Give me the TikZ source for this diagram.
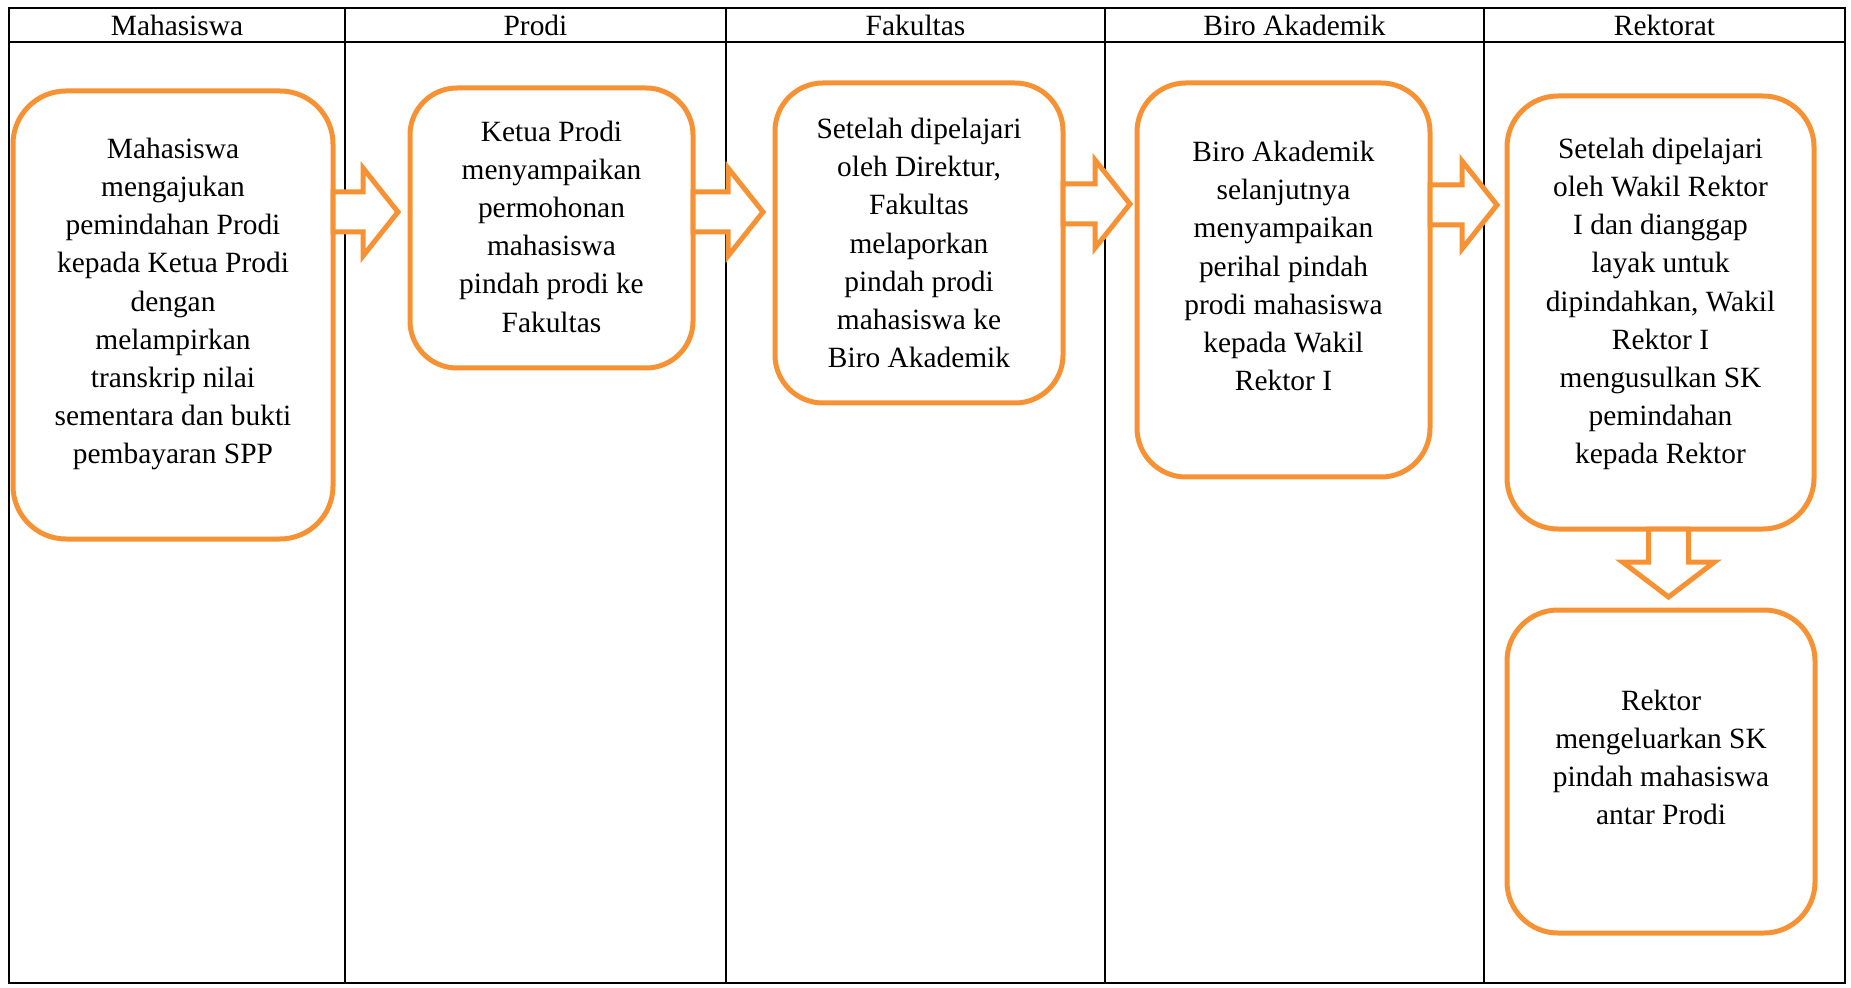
\documentclass[tikz,border=0pt]{standalone}
\usepackage{fontspec}
\setmainfont{Liberation Serif}
\usetikzlibrary{calc}
\definecolor{boxorange}{RGB}{246,146,52}
\begin{document}
\begin{tikzpicture}[x=0.5pt,y=-0.5pt,
  frame/.style={draw=black,line width=0.9pt},
  box/.style={draw=boxorange,line width=2.5pt,fill=white,outer sep=0pt,inner sep=0pt,rectangle},
  txt/.style={font=\fontsize{14.7}{19.1}\selectfont,align=center,inner sep=0pt},
  head/.style={font=\fontsize{14.7}{19.1}\selectfont,inner sep=0pt,anchor=base},
  barrow/.style={draw=boxorange,line width=2.5pt,fill=white,line join=miter}
]
\useasboundingbox (0,0) rectangle (1851,988);
\fill[white] (0,0) rectangle (1851,988);

% swimlane frame
\draw[frame] (9,8) rectangle (1845,983);
\draw[frame] (9,42) -- (1845,42);
\foreach \xx in {345,726,1105,1484} \draw[frame] (\xx,8) -- (\xx,983);

% lane headers
\node[head] (h1) at (177,36) {Mahasiswa};
\node[head] (h2) at (535.5,36) {Prodi};
\node[head] (h3) at (915.5,36) {Fakultas};
\node[head] (h4) at (1294.5,36) {Biro Akademik};
\node[head] (h5) at (1664.5,36) {Rektorat};

% process boxes
\node[box,minimum width=160pt,minimum height=224pt,rounded corners=26.5pt] (b1) at (173,315) {};
\node[box,minimum width=141.5pt,minimum height=140pt,rounded corners=23.5pt] (b2) at (551.5,228) {};
\node[box,minimum width=144pt,minimum height=160pt,rounded corners=24pt] (b3) at (919,243) {};
\node[box,minimum width=146.5pt,minimum height=197pt,rounded corners=24.5pt] (b4) at (1283.5,280) {};
\node[box,minimum width=153.5pt,minimum height=216.5pt,rounded corners=25.5pt] (b5) at (1660.5,312.5) {};
\node[box,minimum width=154pt,minimum height=161.5pt,rounded corners=25.5pt] (b6) at (1661,771.5) {};

% box texts
\node[txt] (t1) at (173,304) {Mahasiswa\\mengajukan\\pemindahan Prodi\\kepada Ketua Prodi\\dengan\\melampirkan\\transkrip nilai\\sementara dan bukti\\pembayaran SPP};
\node[txt] (t2) at (551.5,226.5) {Ketua Prodi\\menyampaikan\\permohonan\\mahasiswa\\pindah prodi ke\\Fakultas};
\node[txt] (t3) at (919,243) {Setelah dipelajari\\oleh Direktur,\\Fakultas\\melaporkan\\pindah prodi\\mahasiswa ke\\Biro Akademik};
\node[txt] (t4) at (1283.5,266) {Biro Akademik\\selanjutnya\\menyampaikan\\perihal pindah\\prodi mahasiswa\\kepada Wakil\\Rektor I};
\node[txt] (t5) at (1660.5,304) {Setelah dipelajari\\oleh Wakil Rektor\\I dan dianggap\\layak untuk\\dipindahkan, Wakil\\Rektor I\\mengusulkan SK\\pemindahan\\kepada Rektor};
\node[txt] (t6) at (1661,757.5) {Rektor\\mengeluarkan SK\\pindah mahasiswa\\antar Prodi};

% arrow end points
\coordinate (a1s) at (b1.east |- 0,212);
\coordinate (a1e) at ($(b2.west |- 0,212)+(-12,0)$);
\coordinate (a2s) at (b2.east |- 0,212);
\coordinate (a2e) at ($(b3.west |- 0,212)+(-12,0)$);
\coordinate (a3s) at (b3.east |- 0,204);
\coordinate (a3e) at ($(b4.west |- 0,204)+(-7,0)$);
\coordinate (a4s) at (b4.east |- 0,205);
\coordinate (a4e) at ($(b5.west |- 0,205)+(-10,0)$);
\coordinate (a5s) at (b5.south -| 1668.5,0);
\coordinate (a5e) at ($(b6.north -| 1668.5,0)+(0,-13)$);

% right block arrows
\foreach \s/\e in {a1s/a1e,a2s/a2e,a3s/a3e,a4s/a4e}{
  \draw[barrow] let \p1=(\s), \p2=(\e) in
    (\x1,\y1+10pt) -- (\x2-17.5pt,\y1+10pt) -- (\x2-17.5pt,\y1+22pt) -- (\x2,\y1)
    -- (\x2-17.5pt,\y1-22pt) -- (\x2-17.5pt,\y1-10pt) -- (\x1,\y1-10pt) -- cycle;
}
% down block arrow
\draw[barrow] let \p1=(a5s), \p2=(a5e) in
  (\x1-10pt,\y1) -- (\x1-10pt,\y2+17.5pt) -- (\x1-23pt,\y2+17.5pt) -- (\x1,\y2)
  -- (\x1+23pt,\y2+17.5pt) -- (\x1+10pt,\y2+17.5pt) -- (\x1+10pt,\y1) -- cycle;
\end{tikzpicture}
\end{document}
